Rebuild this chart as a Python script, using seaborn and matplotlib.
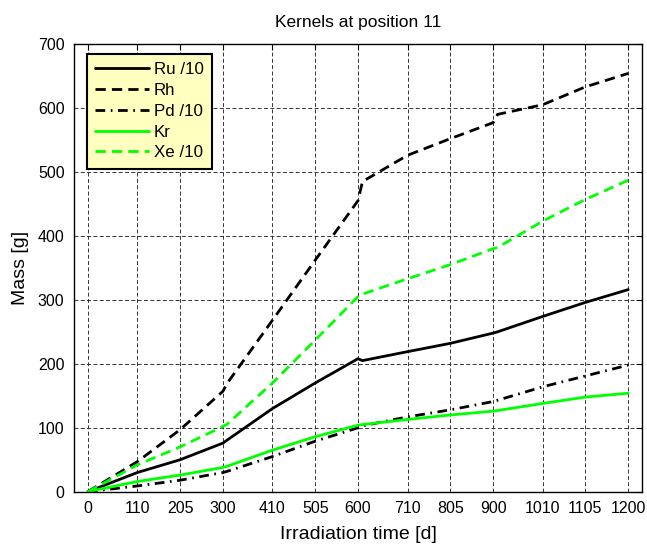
import matplotlib
matplotlib.use("Agg")
import matplotlib.pyplot as plt
import pandas as pd
import seaborn as sns

# ---- data ----
time_days = [0, 110, 205, 300, 310, 410, 505, 600, 610, 710, 805, 900, 910, 1010, 1105, 1200]
tick_days = [0, 110, 205, 300, 410, 505, 600, 710, 805, 900, 1010, 1105, 1200]

ru_div10 = [0, 30, 50, 76, 81, 130, 170, 208, 205, 219, 232, 248, 250, 274, 296, 316]
rh = [0, 47, 97, 157, 170, 268, 362, 455, 485, 526, 552, 577, 590, 605, 633, 654]
pd_div10 = [0, 9, 18, 30, 32, 55, 79, 100, 103, 117, 128, 141, 143, 164, 181, 198]
kr = [0, 16, 26, 38, 40, 65, 86, 104, 105, 113, 120, 126, 127, 138, 148, 154]
xe_div10 = [0, 42, 70, 102, 106, 170, 237, 305, 309, 333, 355, 380, 382, 423, 457, 487]

series_names = ["Ru /10", "Rh", "Pd /10", "Kr", "Xe /10"]
series_values = [ru_div10, rh, pd_div10, kr, xe_div10]
series_colors = ["#000000", "#000000", "#000000", "#00FF00", "#00FF00"]
series_dashes = ["", (3.7, 2.2), (3.5, 2.0, 0.6, 2.0), "", (3.7, 2.2)]

title = "Kernels at position 11"
xlabel = "Irradiation time [d]"
ylabel = "Mass [g]"
y_ticks = [0, 100, 200, 300, 400, 500, 600, 700]

# ---- build long table ----
rows = []
for name, vals in zip(series_names, series_values):
    for t, v in zip(time_days, vals):
        rows.append({"time": t, "mass": v, "series": name})
df = pd.DataFrame(rows)

sns.set_style("white")
plt.rcParams["font.family"] = ["Liberation Sans", "DejaVu Sans"]
plt.rcParams["text.color"] = "black"
plt.rcParams["axes.labelcolor"] = "black"
plt.rcParams["xtick.color"] = "black"
plt.rcParams["ytick.color"] = "black"

fig = plt.figure(figsize=(6.47, 5.46), dpi=100)
ax = fig.add_axes([0.1148, 0.0994, 0.8770, 0.8200])

sns.lineplot(
    data=df, x="time", y="mass", hue="series", style="series",
    hue_order=series_names, style_order=series_names,
    palette=dict(zip(series_names, series_colors)),
    dashes=dict(zip(series_names, series_dashes)),
    linewidth=2.0, ax=ax, sort=False, estimator=None,
)

ax.set_xlim(-30, 1230)
ax.set_ylim(0, 700)
ax.set_xticks(tick_days)
ax.set_xticklabels([str(t) for t in tick_days])
ax.set_yticks(y_ticks)
ax.tick_params(axis="both", which="both", direction="in", length=4, width=0.8,
               top=True, right=True, labelsize=11.5, colors="black",
               labelcolor="black", pad=7)
ax.grid(True, color="#333333", linestyle=(0, (4, 2.5)), linewidth=0.7)
for s in ax.spines.values():
    s.set_color("black")
    s.set_linewidth(1.0)
    s.set_visible(True)

ax.set_title(title, fontsize=12.5, pad=12, color="black")
ax.set_xlabel(xlabel, fontsize=14, labelpad=7, color="black")
ax.set_ylabel(ylabel, fontsize=14, labelpad=6, color="black")

handles, labels = ax.get_legend_handles_labels()
leg = ax.legend(handles, labels, loc="upper left", bbox_to_anchor=(0.022, 0.978),
                borderaxespad=0, fancybox=False, frameon=True, fontsize=12.2,
                handlelength=3.2, handletextpad=0.25, labelspacing=0.34,
                borderpad=0.5)
for txt in leg.get_texts():
    txt.set_color("black")
frame = leg.get_frame()
frame.set_facecolor("#FFFFC0")
frame.set_edgecolor("black")
frame.set_linewidth(1.5)
frame.set_alpha(1)

fig.savefig("out.png", dpi=100)
